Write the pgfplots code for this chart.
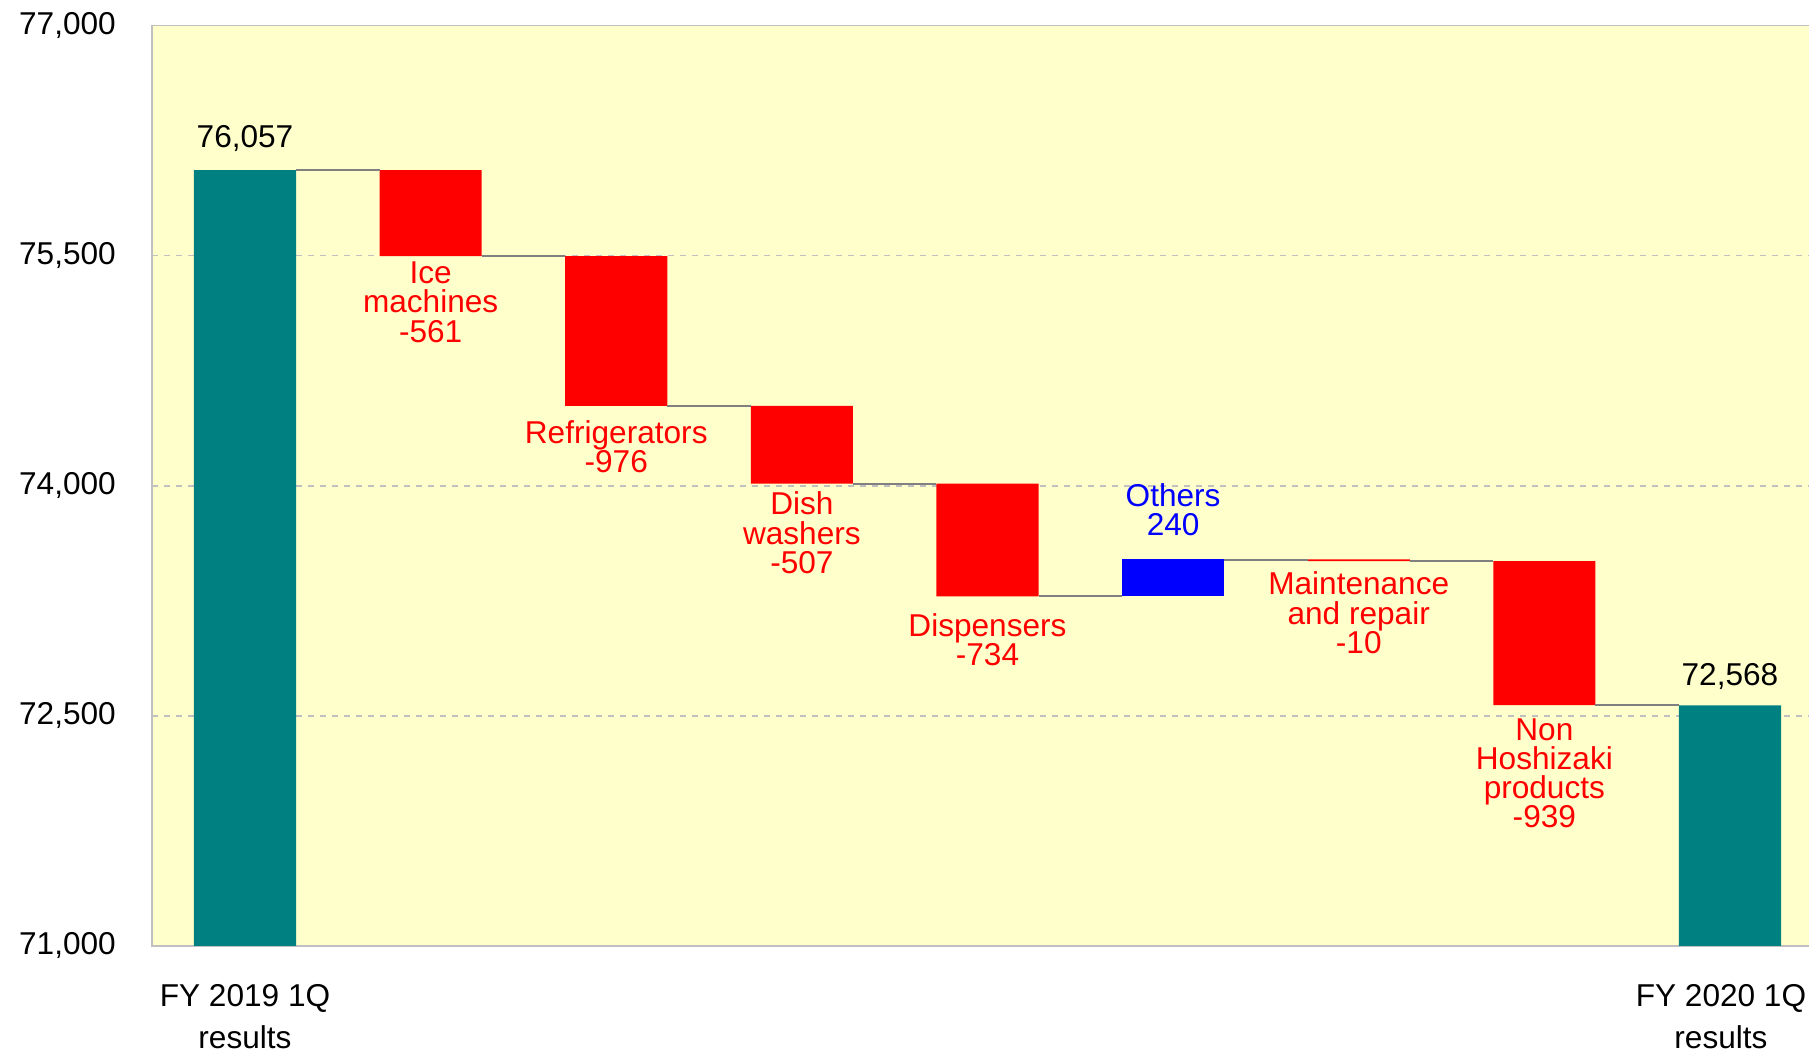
\documentclass[border=0pt]{standalone}
\usepackage{fontspec}
\setmainfont{Liberation Sans}
\usepackage{pgfplots}
\pgfplotsset{compat=1.18}
\usepackage{pgfplotstable}
\definecolor{bgc}{RGB}{255,255,204}
\definecolor{tealc}{RGB}{0,128,128}
\definecolor{gridc}{RGB}{192,192,192}
\definecolor{connc}{RGB}{128,128,128}
\definecolor{redc}{RGB}{255,0,0}
\definecolor{bluec}{RGB}{0,0,255}

\pgfplotstableread{
x base total dec inc
0 0 76057 0 0
1 75496 0 561 0
2 74520 0 976 0
3 74013 0 507 0
4 73279 0 734 0
5 73279 0 0 240
6 73509 0 10 0
7 72570 0 939 0
8 0 72568 0 0
}\wfdata

\pgfplotstableread{
x y
0.275 76057
0.725 76057
nan nan
1.275 75496
1.725 75496
nan nan
2.275 74520
2.725 74520
nan nan
3.275 74013
3.725 74013
nan nan
4.275 73279
4.725 73279
nan nan
5.275 73519
5.725 73519
nan nan
6.275 73509
6.725 73509
nan nan
7.275 72570
7.725 72570
}\conndata

\newcommand{\lblfont}{\fontsize{15.8}{14.6}\selectfont}

\begin{document}
\begin{tikzpicture}
\path[use as bounding box] (-76.1pt,-53.5pt) rectangle (828.4pt,473pt);
\begin{axis}[
  at={(0,0)}, anchor=south west,
  scale only axis, width=835.3pt, height=460.15pt,
  xmin=-0.5, xmax=8.5, ymin=71000, ymax=77000,
  ybar stacked, bar width=0.55,
  axis background/.style={fill=bgc},
  axis line style={draw=gridc, line width=0.8pt},
  ytick={71000,72500,74000,75500,77000},
  scaled y ticks=false,
  ymajorgrids, grid style={gridc, dashed, line width=0.8pt},
  major tick length=0pt,
  xtick={0},
  xticklabels={{FY 2019 1Q\\results}},
  extra x ticks={8},
  extra x tick labels={{FY 2020 1Q\\results}},
  extra x tick style={grid=none, xticklabel style={xshift=-4.5pt}},
  /pgf/number format/assume math mode=true,
  /pgf/number format/1000 sep={,},
  yticklabel style={anchor=east, inner sep=0pt, xshift=-18pt, font=\fontsize{15.8}{19}\selectfont},
  xticklabel style={anchor=north, inner sep=0pt, yshift=-19pt, align=center, font=\fontsize{15.8}{21}\selectfont},
]
\addplot[draw=none, fill=none] table[x=x, y=base] {\wfdata};
\addplot[draw=none, fill=tealc] table[x=x, y=total] {\wfdata};
\addplot[draw=none, fill=redc] table[x=x, y=dec] {\wfdata};
\addplot[draw=none, fill=bluec] table[x=x, y=inc] {\wfdata};

\node[anchor=base, inner sep=0pt, font=\lblfont] at (axis cs:0,76203) {76,057};
\node[anchor=base, inner sep=0pt, font=\lblfont] at (axis cs:8,72695) {72,568};
\node[anchor=north, inner sep=0pt, align=center, text=redc, font=\lblfont] at (axis cs:1,75461) {Ice\\machines\\-561};
\node[anchor=north, inner sep=0pt, align=center, text=redc, font=\lblfont] at (axis cs:2,74429) {Refrigerators\\-976};
\node[anchor=north, inner sep=0pt, align=center, text=redc, font=\lblfont] at (axis cs:3,73962) {Dish\\washers\\-507};
\node[anchor=north, inner sep=0pt, align=center, text=redc, font=\lblfont] at (axis cs:4,73171) {Dispensers\\-734};
\node[anchor=south, inner sep=0pt, align=center, text=bluec, font=\lblfont] at (axis cs:5,73668) {Others\\240};
\node[anchor=north, inner sep=0pt, align=center, text=redc, font=\lblfont] at (axis cs:6,73440) {Maintenance\\and repair\\-10};
\node[anchor=north, inner sep=0pt, align=center, text=redc, font=\lblfont] at (axis cs:7,72486) {Non\\Hoshizaki\\products\\-939};
\end{axis}
\begin{axis}[
  at={(0,0)}, anchor=south west,
  scale only axis, width=835.3pt, height=460.15pt,
  xmin=-0.5, xmax=8.5, ymin=71000, ymax=77000,
  hide axis,
]
\addplot[connc, line width=1pt, unbounded coords=jump, mark=none] table[x=x, y=y] {\conndata};
\end{axis}
\end{tikzpicture}
\end{document}
